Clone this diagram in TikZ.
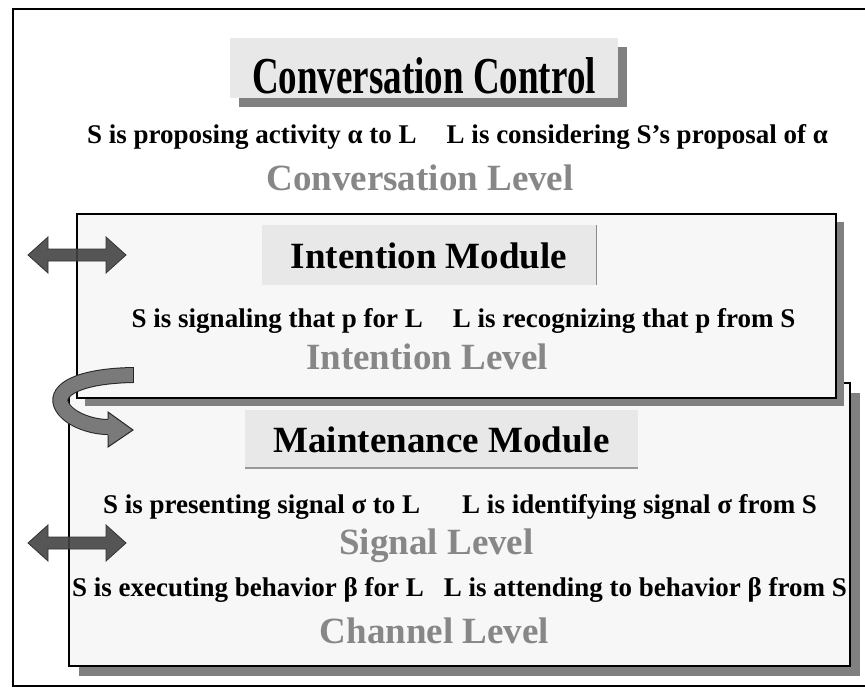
\documentclass[tikz,border=0pt]{standalone}
\usepackage{fontspec}
\setmainfont{Liberation Serif}
\usepackage{graphicx}
\usetikzlibrary{shadows}
\definecolor{boxgray}{HTML}{E8E8E8}
\definecolor{panel}{HTML}{F7F7F7}
\definecolor{shade}{HTML}{808080}
\definecolor{levelgray}{HTML}{878787}
\definecolor{arrowgray}{HTML}{444444}
\definecolor{curlgray}{HTML}{7A7A7A}

\begin{document}
\begin{tikzpicture}[x=1pt,y=-1pt,
  big/.style={font=\fontsize{37}{40}\selectfont\bfseries},
  says/.style={font=\fontsize{27}{30}\selectfont\bfseries,anchor=base,inner sep=0pt},
  level/.style={big,text=levelgray,anchor=base,inner sep=0pt},
  headbox/.style={big,fill=boxgray,inner sep=0pt,text depth=0pt},
  panelbox/.style={draw,line width=2pt,fill=panel,anchor=north west,inner sep=0pt}]
\useasboundingbox (0,0) rectangle (865,689);
\draw[line width=2pt] (865,9) -- (13,9) -- (13,686) -- (865,686);

\node (convtitle) [headbox,minimum width=388pt,minimum height=60pt,text height=50pt,
  drop shadow={shadow xshift=9pt,shadow yshift=-9pt,fill=shade,opacity=1}]
  at (424,68) {\scalebox{1}[1.4]{Conversation Control}};
\node (convsays) [says] at (457.5,143) {S is proposing activity α to L\hspace{30pt}L is considering S's proposal of α};
\node (convlevel) [level] at (420,190) {Conversation Level};

\node (maintbox) [panelbox,minimum width=781pt,minimum height=283pt,
  drop shadow={shadow xshift=10pt,shadow yshift=-10pt,fill=shade,opacity=1}] at (68,382) {};
\node (intbox) [panelbox,minimum width=759pt,minimum height=184pt,
  drop shadow={shadow xshift=8pt,shadow yshift=-8pt,fill=shade,opacity=1}] at (76,213) {};

\node (intmod) [headbox,minimum width=334pt,minimum height=60pt,text height=26pt] at (429,255) {Intention Module};
\draw[black!45,line width=1pt] (intmod.north east) -- (intmod.south east);
\node (intsays) [says] at (463.5,327) {S is signaling that p for L\hspace{30pt}L is recognizing that p from S};
\node (intlevel) [level] at (427,369) {Intention Level};

\node (maintmod) [headbox,minimum width=393pt,minimum height=58pt,text height=26pt] at (441.5,439) {Maintenance Module};
\draw[black!40,line width=1.5pt] (maintmod.south west) -- (maintmod.south east);
\node (sigsays) [says] at (460,513) {S is presenting signal σ to L\hspace{42pt}L is identifying signal σ from S};
\node (siglevel) [level] at (436.5,554) {Signal Level};
\node (chansays) [says] at (459.5,596) {S is executing behavior β for L\hspace{20pt}L is attending to behavior β from S};
\node (chanlevel) [level] at (434.5,643) {Channel Level};

\foreach \y in {255,543}
  \filldraw[fill=arrowgray,draw=black!80,line width=0.8pt,fill opacity=.9]
    (28,\y) -- (48,\y-18) -- (48,\y-6) -- (106,\y-6) -- (106,\y-18) -- (126,\y)
    -- (106,\y+18) -- (106,\y+6) -- (48,\y+6) -- (48,\y+18) -- cycle;

\draw[line width=1pt,black!85,double=curlgray,double distance=14pt]
  (133,375) .. controls (78,376) and (56,390) .. (61,404) .. controls (66,418) and (90,427) .. (108,427);
\filldraw[fill=curlgray,draw=black!85,line width=1pt] (108,419) -- (108,412) -- (133,430) -- (108,447) -- (108,435);
\draw[black!85,line width=1pt] (133,367) -- (133,383);
\end{tikzpicture}
\end{document}
